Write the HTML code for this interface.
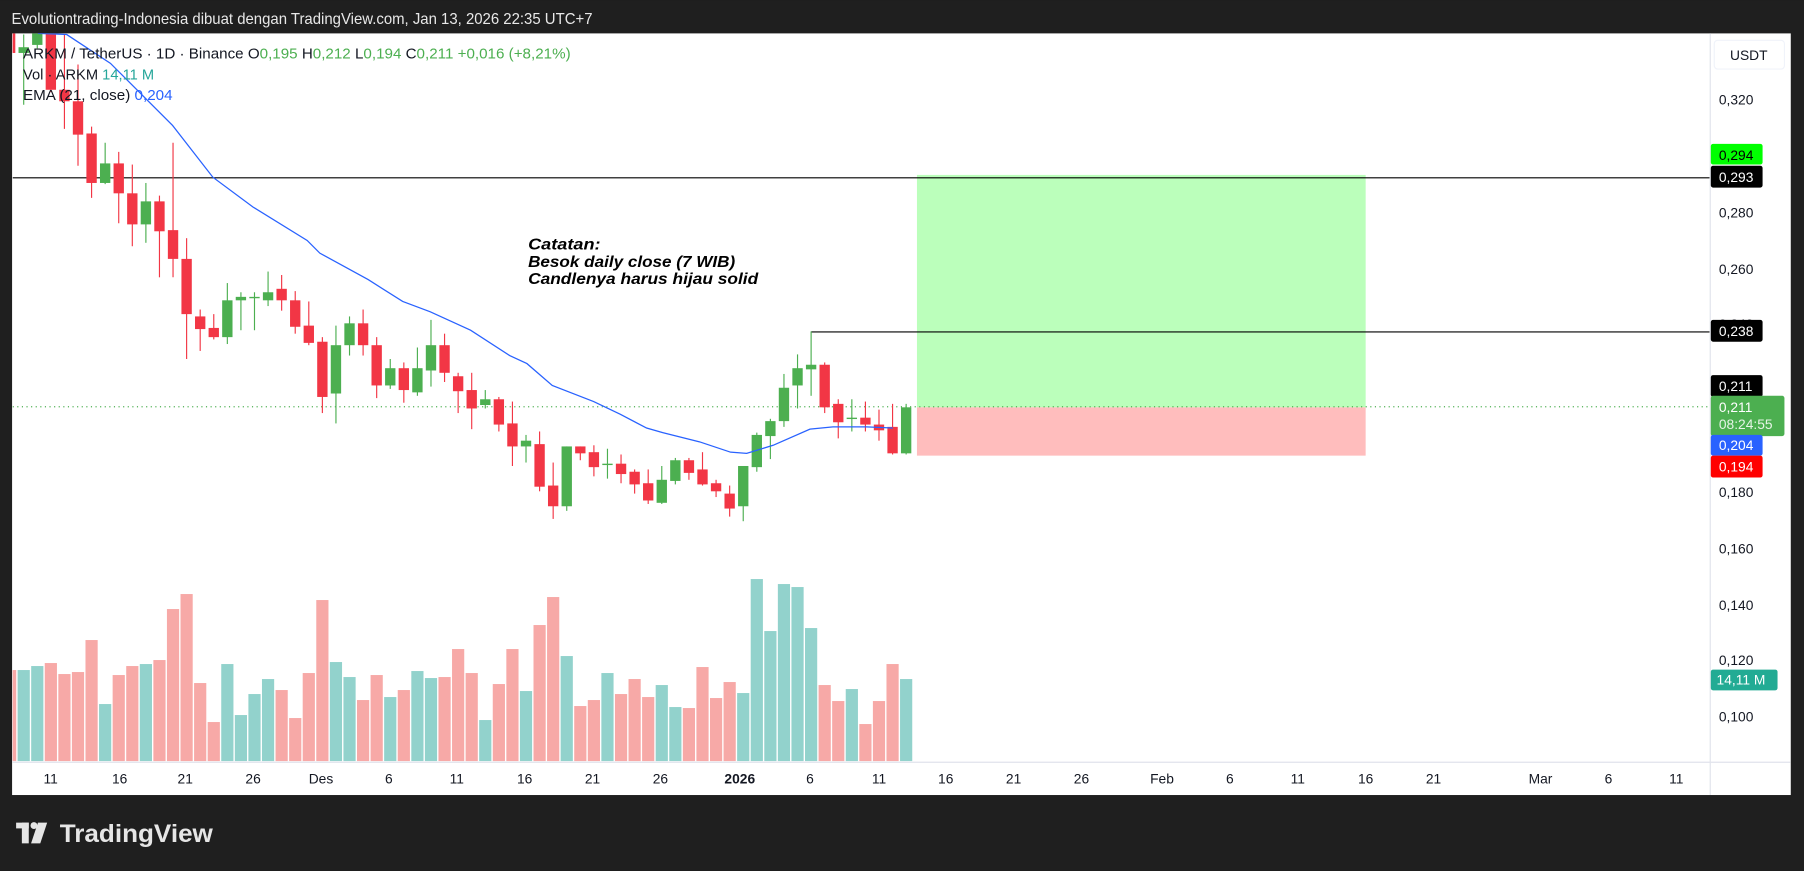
<!DOCTYPE html>
<html><head><meta charset="utf-8">
<style>
html,body{margin:0;padding:0;background:#1f1f1f;width:1804px;height:871px;overflow:hidden}
svg{display:block}
text{font-family:"Liberation Sans",sans-serif}
</style></head>
<body>
<svg id="s" width="1804" height="871" viewBox="0 0 1568 757" xmlns="http://www.w3.org/2000/svg">
<rect x="0" y="0" width="1568" height="757" fill="#1f1f1f"/>
<text x="10" y="21" font-size="13.5" fill="#e8e8e8" textLength="505" lengthAdjust="spacingAndGlyphs">Evolutiontrading-Indonesia dibuat dengan TradingView.com, Jan 13, 2026 22:35 UTC+7</text>
<rect x="10.5" y="29" width="1546" height="662" fill="#ffffff"/>
<defs><clipPath id="pc"><rect x="11" y="29" width="1475" height="633"/></clipPath></defs>
<g clip-path="url(#pc)">
<rect x="797" y="152" width="390" height="202" fill="#bbffbb"/>
<rect x="797" y="354" width="390" height="42" fill="#ffbdbd"/>
<line x1="11" y1="353.5" x2="1486" y2="353.5" stroke="#4caf50" stroke-width="1" stroke-dasharray="1,3"/>
<line x1="11" y1="154.5" x2="1486" y2="154.5" stroke="#000" stroke-width="1"/>
<line x1="705" y1="288.5" x2="1486" y2="288.5" stroke="#000" stroke-width="1"/>
<g id="vol"></g>
<g id="cdl"></g>
<polyline fill="none" stroke="#2962ff" stroke-width="1.1" points="33,29 58,30 96,55 150,109 185,154 220,180 267,209 278,220 320,243 350,262 374,271 409,287 443,309 458,316 480,335 516,349 539,360 562,372 576,376 608,384 635,393 649,394 672,387 704,373 724,371 753,371 776,372"/>
</g>
<g font-size="12.5" fill="#131722">
<text x="20" y="51" textLength="476" lengthAdjust="spacingAndGlyphs">ARKM / TetherUS · 1D · Binance  O<tspan fill="#4caf50">0,195</tspan>  H<tspan fill="#4caf50">0,212</tspan>  L<tspan fill="#4caf50">0,194</tspan>  C<tspan fill="#4caf50">0,211  +0,016 (+8,21%)</tspan></text>
<text x="20" y="69" textLength="114" lengthAdjust="spacingAndGlyphs">Vol · ARKM  <tspan fill="#26a69a">14,11 M</tspan></text>
<text x="20" y="87" textLength="130" lengthAdjust="spacingAndGlyphs">EMA (21, close)  <tspan fill="#2962ff">0,204</tspan></text>
</g>
<g font-size="14" font-weight="bold" font-style="italic" fill="#000">
<text x="459" y="217" textLength="63" lengthAdjust="spacingAndGlyphs">Catatan:</text>
<text x="459" y="232" textLength="180" lengthAdjust="spacingAndGlyphs">Besok daily close (7 WIB)</text>
<text x="459" y="247" textLength="200" lengthAdjust="spacingAndGlyphs">Candlenya harus hijau solid</text>
</g>
<line x1="1486.5" y1="29" x2="1486.5" y2="691" stroke="#e0e3eb"/>
<line x1="11" y1="662.5" x2="1556" y2="662.5" stroke="#e0e3eb"/>
<rect x="1490" y="35" width="61" height="25" rx="3" fill="#fff" stroke="#f0f3fa"/>
<text x="1520" y="52" font-size="12" fill="#131722" text-anchor="middle">USDT</text>
<g font-size="12" fill="#131722">
<text x="1494" y="91">0,320</text>
<text x="1494" y="189">0,280</text>
<text x="1494" y="238">0,260</text>
<text x="1494" y="286">0,240</text>
<text x="1494" y="432">0,180</text>
<text x="1494" y="481">0,160</text>
<text x="1494" y="530">0,140</text>
<text x="1494" y="578">0,120</text>
<text x="1494" y="627">0,100</text>
</g>
<g font-size="12">
<rect x="1487" y="125" width="45" height="18" rx="2" fill="#00ff00"/><text x="1494" y="139" fill="#000">0,294</text>
<rect x="1487" y="144" width="45" height="19" rx="2" fill="#000"/><text x="1494" y="158" fill="#fff">0,293</text>
<rect x="1487" y="278" width="45" height="19" rx="2" fill="#000"/><text x="1494" y="292" fill="#fff">0,238</text>
<rect x="1487" y="326" width="45" height="19" rx="2" fill="#000"/><text x="1494" y="340" fill="#fff">0,211</text>
<rect x="1487" y="344" width="64" height="35" rx="2" fill="#4caf50"/><text x="1494" y="358" fill="#fff">0,211</text><text x="1494" y="373" fill="#e6f4e6">08:24:55</text>
<rect x="1487" y="378" width="45" height="18" rx="2" fill="#2962ff"/><text x="1494" y="391" fill="#fff">0,204</text>
<rect x="1487" y="396" width="45" height="19" rx="2" fill="#ff0000"/><text x="1494" y="410" fill="#fff">0,194</text>
<rect x="1487" y="582" width="58" height="18" rx="2" fill="#22ab94"/><text x="1492" y="595" fill="#fff">14,11 M</text>
</g>
<g font-size="12" fill="#131722" text-anchor="middle">
<text x="44" y="681">11</text><text x="104" y="681">16</text><text x="161" y="681">21</text><text x="220" y="681">26</text><text x="279" y="681">Des</text><text x="338" y="681">6</text><text x="397" y="681">11</text><text x="456" y="681">16</text><text x="515" y="681">21</text><text x="574" y="681">26</text><text x="643" y="681" font-weight="bold">2026</text><text x="704" y="681">6</text><text x="764" y="681">11</text><text x="822" y="681">16</text><text x="881" y="681">21</text><text x="940" y="681">26</text><text x="1010" y="681">Feb</text><text x="1069" y="681">6</text><text x="1128" y="681">11</text><text x="1187" y="681">16</text><text x="1246" y="681">21</text><text x="1339" y="681">Mar</text><text x="1398" y="681">6</text><text x="1457" y="681">11</text>
</g>
<g fill="#e6e6e6">
<rect x="14" y="715" width="11" height="5"/><rect x="19" y="715" width="6" height="18"/>
<circle cx="29.5" cy="717.5" r="3"/>
<polygon points="33,715 41,715 35,733 27,733"/>
<text x="52" y="732" font-size="22" font-weight="bold" fill="#e6e6e6" textLength="133" lengthAdjust="spacingAndGlyphs">TradingView</text>
</g>
</svg>
<script>
var C=[[29,46,29,50,0],[41,46,30,91,1],[29,39,29,42,1],[29,78,29,80,0],[78,88,30,112,0],[88,117,56,144,0],[116,159,110,172,0],[142,159,124,160,1],[142,168,132,194,0],[168,195,143,214,0],[175,195,159,211,1],[175,201,170,241,0],[200,225,124,241,0],[225,273,207,312,0],[275,286,269,305,0],[285,293,273,295,0],[261,293,246,299,1],[258,261,254,287,1],[258,258,254,287,1],[254,261,236,266,1],[251,261,239,270,0],[261,284,253,290,0],[283,298,262,300,0],[297,345,293,359,0],[300,342,283,368,1],[281,300,275,309,1],[281,300,269,309,0],[300,335,293,346,0],[320,335,312,338,1],[320,339,315,350,0],[320,341,302,344,1],[300,322,278,336,1],[300,324,290,332,0],[327,340,324,359,0],[339,355,324,373,0],[347,352,339,355,1],[347,369,345,375,0],[368,388,349,405,0],[383,388,378,402,1],[386,423,375,427,0],[422,440,402,451,0],[388,440,388,444,1],[388,394,388,400,0],[393,406,387,414,0],[403,403,390,416,1],[403,412,395,420,0],[410,421,408,429,0],[420,435,408,438,0],[417,437,405,438,1],[400,418,398,421,1],[400,411,398,417,0],[408,421,393,422,0],[420,427,417,432,0],[429,442,422,449,0],[405,440,405,453,1],[378,406,376,410,1],[366,379,364,399,1],[337,366,325,371,1],[320,335,308,355,1],[317,321,288,344,1],[317,354,315,359,0],[351,367,347,381,0],[363,363,347,375,1],[363,369,349,375,0],[369,374,356,383,0],[371,394,351,395,0],[354,394,351,395,1]];
var V=[300,300,288,279,312,306,210,402,315,288,282,270,117,72,339,456,282,435,372,327,360,444,309,90,276,321,390,315,381,360,303,324,321,237,309,450,342,237,363,165,81,258,408,390,309,372,327,381,345,411,414,291,384,336,369,27,183,42,51,174,345,393,357,462,393,282,327];
var ns="http://www.w3.org/2000/svg",cg=document.getElementById('cdl'),vg=document.getElementById('vol');
function el(t,a,p){var e=document.createElementNS(ns,t);for(var k in a)e.setAttribute(k,a[k]);p.appendChild(e);}
for(var i=0;i<C.length;i++){var x=8.8+11.8*i,d=C[i],col=d[4]?'#4caf50':'#f23645';
var vt=(570+V[i]/3)/1.1505;
el('rect',{x:x-5.3,y:vt,width:10.6,height:661.5-vt,fill:d[4]?'#92d2cc':'#f7a9a7'},vg);
el('line',{x1:x,y1:d[2],x2:x,y2:d[3],stroke:col,'stroke-width':1},cg);
el('rect',{x:x-4.5,y:d[0],width:9,height:Math.max(1.2,d[1]-d[0]),fill:col},cg);}
</script>
</body></html>
